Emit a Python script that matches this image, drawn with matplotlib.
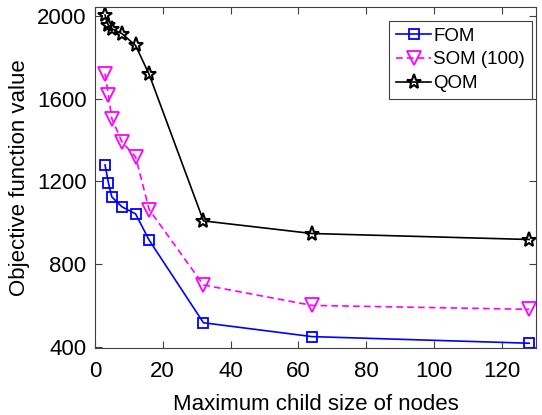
import matplotlib.pyplot as plt
import numpy as np

plt.rcParams['font.family'] = ['Liberation Sans', 'DejaVu Sans']

# x: maximum child size
x = [3, 4, 5, 8, 12, 16, 32, 64, 128]
fom = [1280, 1193, 1125, 1077, 1043, 916, 516, 449, 417]
som = [1722, 1617, 1504, 1391, 1319, 1064, 699, 600, 581]
qom = [2005, 1955, 1939, 1915, 1858, 1718, 1009, 948, 919]

xticks = [0, 20, 40, 60, 80, 100, 120]
yticks = [400, 800, 1200, 1600, 2000]

fig = plt.figure(figsize=(5.42, 4.15), dpi=100)
ax = fig.add_axes([0.175, 0.161, 0.814, 0.821])

ax.plot(x, fom, color='blue', lw=1.2, marker='s', ms=7, mfc='none', mew=1.3, label='FOM')
ax.plot(x, som, color='magenta', lw=1.2, ls='--', dashes=(4, 2.5), marker='v', ms=9.5, mfc='none', mew=1.3, label='SOM (100)')
ax.plot(x, qom, color='black', lw=1.2, marker='*', ms=11, mfc='none', mew=1.5, label='QOM')

ax.set_xlim(0, 130)
ax.set_ylim(393, 2042)
ax.set_xticks(xticks)
ax.set_yticks(yticks)
ax.tick_params(direction='in', top=True, right=True, labelsize=16, length=5,
               color='#404040', width=0.8)
ax.tick_params(axis='x', pad=9)
ax.tick_params(axis='y', pad=6)
for s in ax.spines.values():
    s.set_color('#404040')
    s.set_linewidth(0.8)

ax.set_xlabel('Maximum child size of nodes', fontsize=16, labelpad=9)
ax.set_ylabel('Objective function value', fontsize=16, labelpad=5)

leg = ax.legend(loc='upper right', bbox_to_anchor=(0.99, 0.96), fontsize=13.5,
                fancybox=False, framealpha=1,
                handlelength=1.9, handletextpad=0.1, borderpad=0.35, labelspacing=0.35,
                borderaxespad=0)
leg.get_frame().set_edgecolor('#404040')
leg.get_frame().set_linewidth(0.8)

fig.savefig('out.png', dpi=100)
